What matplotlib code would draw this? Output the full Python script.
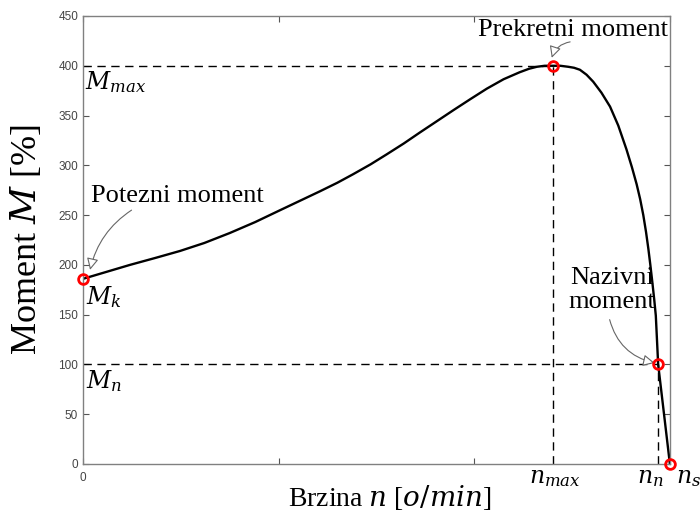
import matplotlib
matplotlib.use("Agg")
import matplotlib.pyplot as plt

plt.rcParams['font.family'] = ['Liberation Serif', 'DejaVu Serif']
plt.rcParams['mathtext.fontset'] = 'dejavuserif'

# brzina [o/min] i moment [%] ocitani sa slike
n_vals = [0, 60, 120, 185, 248, 310, 375, 440, 504, 555, 606, 650, 690, 735,
          776, 820, 861, 905, 947, 990, 1032, 1075, 1116, 1140, 1160, 1180,
          1200, 1220, 1240, 1255, 1270, 1287, 1304, 1325, 1347, 1368, 1389,
          1403, 1415, 1424, 1432, 1439, 1445, 1450, 1455, 1460, 1464,
          1470, 1485, 1500]
m_vals = [186, 193, 200, 207, 214, 222, 232, 243, 255, 264.5, 274, 282.5, 291, 301,
          311, 322, 333, 344.5, 355.5, 366.5, 377, 386.5, 393.5, 397, 399, 400,
          400, 400, 399, 398, 396, 391, 384, 373, 359, 340, 316,
          298, 281, 266, 250, 233, 216, 200, 183, 165, 149,
          100, 50, 0]

# karakteristicne tocke
n_k, M_k = 0, 186
n_max, M_max = 1200, 400
n_n, M_n = 1470, 100
n_s = 1500

x_ticks = [0, 500, 1000, 1500]
x_tick_labels = ['0', '', '', '']
y_ticks = list(range(0, 451, 50))

fig = plt.figure(figsize=(7, 5.12), dpi=100)
ax = fig.add_axes([0.1186, 0.09375, 0.8384, 0.875])

dash = dict(color='k', lw=1, linestyle=(0, (6, 4)))
ax.plot([0, n_max], [M_max, M_max], **dash)
ax.plot([n_max, n_max], [0, M_max], **dash)
ax.plot([0, n_n], [M_n, M_n], **dash)
ax.plot([n_n, n_n], [0, M_n], **dash)

ax.plot(n_vals, m_vals, color='k', lw=1.7)

ax.plot([n_k, n_max, n_n, n_s], [M_k, M_max, M_n, 0], 'o', ms=7,
        mfc='none', mec='red', mew=2, clip_on=False, zorder=5)

ax.set_xlim(0, 1500)
ax.set_ylim(0, 450)
ax.set_xticks(x_ticks)
ax.set_xticklabels(x_tick_labels)
ax.set_yticks(y_ticks)
ax.tick_params(direction='in', length=4, width=0.8, color='#555555',
               labelcolor='#444444', labelsize=8.5, top=True, right=True)
ax.tick_params(axis='x', pad=6)
for lbl in ax.get_xticklabels() + ax.get_yticklabels():
    lbl.set_family(['Liberation Sans', 'DejaVu Sans'])
for s in ax.spines.values():
    s.set_color('#808080')
    s.set_linewidth(1)

ax.set_xlabel(r'Brzina $n$ [$o/min$]', fontsize=20, labelpad=-1)
ax.xaxis.label.set_x(0.523)
ax.set_ylabel(r'Moment $M$ [%]', fontsize=26, labelpad=10)

# oznake
fs = 19
ms_fs = 17
ax.text(5, 397, r'$M_{max}$', fontsize=ms_fs, ha='left', va='top')
ax.text(7, 181, r'$M_k$', fontsize=ms_fs, ha='left', va='top')
ax.text(7, 96, r'$M_n$', fontsize=ms_fs, ha='left', va='top')
ax.text(n_max + 6, -4, r'$n_{max}$', fontsize=ms_fs, ha='center', va='top', clip_on=False)
ax.text(1451, -4, r'$n_n$', fontsize=ms_fs, ha='center', va='top', clip_on=False)
ax.text(1515, -4, r'$n_s$', fontsize=ms_fs, ha='left', va='top', clip_on=False)

arrow = dict(arrowstyle='-|>,head_length=0.7,head_width=0.35', color='#666666',
             lw=0.8, fc='white', shrinkA=0, shrinkB=0)
ax.annotate('', xy=(18, 195), xytext=(124, 255),
            arrowprops=dict(arrow, connectionstyle='arc3,rad=0.2'))
ax.text(240, 269, 'Potezni moment', fontsize=fs, ha='center', va='center')

ax.annotate('', xy=(1198, 408), xytext=(1245, 424),
            arrowprops=dict(arrow, connectionstyle='arc3,rad=0.3'))
ax.text(1252, 436, 'Prekretni moment', fontsize=fs, ha='center', va='center')

ax.annotate('', xy=(1461, 101.5), xytext=(1346, 145),
            arrowprops=dict(arrow, connectionstyle='arc3,rad=0.3'))
ax.text(1352, 175, 'Nazivni\nmoment', fontsize=fs, ha='center', va='center',
        multialignment='center', linespacing=1.1)

fig.savefig('out.png', dpi=100)
